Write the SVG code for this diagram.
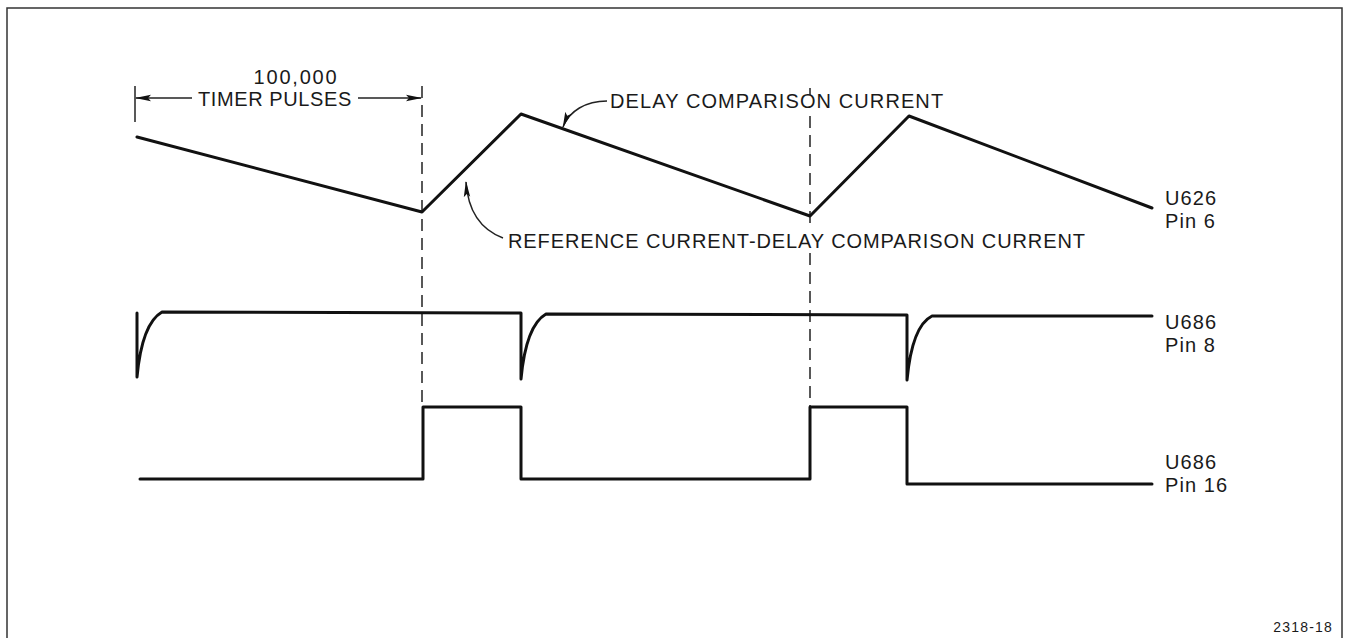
<svg xmlns="http://www.w3.org/2000/svg" width="1347" height="638" viewBox="0 0 1347 638">
<style>
.t{font-family:"Liberation Sans",Arial,sans-serif;font-size:20px;fill:#1a1a1a;letter-spacing:1.1px}
.w{fill:none;stroke:#111;stroke-width:3;stroke-linejoin:round;stroke-linecap:round}
.d{fill:none;stroke:#222;stroke-width:1.5;stroke-dasharray:12 7}
.thin{fill:none;stroke:#222;stroke-width:1.5}
</style>
<defs>
<marker id="ah" viewBox="0 0 16 8" refX="15" refY="4" markerWidth="16" markerHeight="8" markerUnits="userSpaceOnUse" orient="auto">
<path d="M0,0.8 L16,4 L0,7.2 L3,4 Z" fill="#111"/>
</marker>
</defs>
<rect x="7" y="8" width="1335" height="650" fill="none" stroke="#333" stroke-width="1.5"/>
<g id="connectors">
<line class="d" x1="422" y1="86" x2="422" y2="408"/>
<line class="d" x1="810" y1="88" x2="810" y2="95"/>
<line class="d" x1="810" y1="116" x2="810" y2="228"/>
<line class="d" x1="810" y1="253" x2="810" y2="408"/>
<line class="thin" x1="135" y1="86" x2="135" y2="122"/>
<line class="thin" x1="192" y1="98" x2="136" y2="98" marker-end="url(#ah)"/>
<line class="thin" x1="358" y1="98" x2="421" y2="98" marker-end="url(#ah)"/>
<path class="thin" d="M607,101 C586,101 569,111 563,127" marker-end="url(#ah)"/>
<path class="thin" d="M503,238 C482,230 468,212 466,182" marker-end="url(#ah)"/>
</g>
<g id="dimension-label">
<text class="t" x="296" y="84" text-anchor="middle" style="letter-spacing:1.8px">100,000</text>
<text class="t" x="198" y="106" style="letter-spacing:0.6px">TIMER PULSES</text>
</g>
<g id="u626-pin6">
<polyline class="w" points="137,137 422,212 521,114 810,216 909,116 1152,208"/>
<text class="t" x="1165" y="205">U626</text>
<text class="t" x="1165" y="228">Pin 6</text>
</g>
<g id="delay-label">
<text class="t" x="610" y="108">DELAY COMPARISON CURRENT</text>
</g>
<g id="reference-label">
<text class="t" x="508" y="248" style="letter-spacing:0.9px">REFERENCE CURRENT-DELAY COMPARISON CURRENT</text>
</g>
<g id="u686-pin8">
<path class="w" d="M137,313 L137,377 C140,345 148,320 162,312 L521,313 L521,379 C524,347 532,322 546,314 L907,315 L907,380 C910,348 918,323 932,316 L1152,316"/>
<text class="t" x="1165" y="329">U686</text>
<text class="t" x="1165" y="352">Pin 8</text>
</g>
<g id="u686-pin16">
<polyline class="w" points="140,479 423,479 423,407 521,407 521,479 810,479 810,407 907,407 907,484 1152,484"/>
<text class="t" x="1165" y="469">U686</text>
<text class="t" x="1165" y="492">Pin 16</text>
</g>
<text class="t" x="1333" y="632" text-anchor="end" style="font-size:14px;letter-spacing:1.2px">2318-18</text>
</svg>
